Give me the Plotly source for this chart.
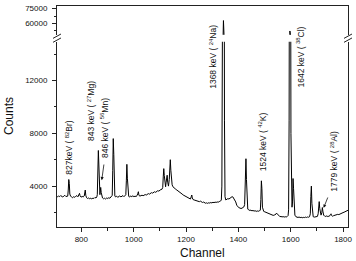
import plotly.graph_objects as go

channel = [705,709,713,717,721,725,729,733,737,741,745,748,750,752,754,756,759,763,767,771,775,779,783,787,791,793,795,799,803,807,811,813,815,817,820,824,828,832,836,840,844,848,852,856,859,861,863,865,867,869,871,873,874,876,878,881,885,889,893,897,901,905,909,913,916,918,920,922,924,926,928,931,935,939,943,947,951,955,959,963,967,970,972,974,976,978,981,985,989,993,997,1001,1005,1009,1013,1016,1018,1020,1024,1028,1032,1036,1040,1044,1048,1052,1056,1060,1064,1068,1072,1076,1080,1084,1088,1092,1096,1100,1104,1108,1111,1113,1115,1117,1119,1122,1124,1126,1128,1130,1133,1136,1138,1140,1142,1144,1147,1150,1153,1157,1161,1165,1169,1173,1177,1181,1185,1189,1193,1197,1201,1205,1209,1213,1217,1220,1222,1224,1227,1231,1235,1239,1243,1247,1251,1255,1259,1263,1267,1271,1275,1279,1283,1287,1291,1295,1299,1303,1307,1311,1315,1319,1323,1327,1331,1335,1337,1339,1341,1343,1345,1347,1349,1352,1356,1360,1364,1368,1372,1376,1379,1382,1386,1390,1394,1398,1402,1406,1410,1414,1418,1421,1424,1426,1429,1431,1433,1436,1440,1444,1448,1452,1456,1460,1464,1468,1472,1476,1480,1484,1486,1488,1490,1492,1494,1497,1501,1505,1509,1513,1517,1521,1525,1529,1533,1537,1541,1544,1546,1548,1551,1555,1559,1563,1567,1571,1575,1579,1583,1587,1590,1592,1594,1596,1597,1599,1601,1603,1605,1607,1609,1611,1613,1616,1620,1624,1628,1632,1636,1640,1644,1648,1652,1656,1660,1664,1668,1672,1675,1677,1679,1681,1683,1686,1690,1694,1698,1702,1705,1707,1709,1711,1713,1716,1719,1721,1723,1726,1730,1734,1738,1742,1746,1750,1752,1754,1756,1760,1764,1768,1772,1776,1780,1784,1788,1792,1796,1800,1804,1808,1812,1816,1820]

counts = [3230,3180,3260,3200,3280,3220,3170,3250,3300,3210,3260,3240,3700,4500,4200,3400,3230,3180,3120,3200,3150,3230,3280,3190,3300,3450,3280,3160,3220,3180,3250,3500,3700,3300,3120,3060,3100,3040,3080,3020,3100,3060,3140,3100,3180,3350,4800,6700,5600,3600,3350,3700,3900,3500,3250,3100,3040,3080,3020,3100,3060,3120,3080,3150,3200,3300,5200,7600,6400,3700,3250,3180,3240,3150,3200,3260,3180,3230,3280,3200,3260,3350,4400,5650,4600,3300,3220,3180,3250,3200,3270,3190,3240,3210,3280,3450,3575,3300,3240,3280,3310,3270,3340,3360,3320,3400,3430,3390,3460,3500,3470,3540,3570,3530,3610,3650,3620,3700,3740,3760,3900,4700,5325,4800,4100,3950,4300,4700,4825,4300,4000,4500,5400,6000,5200,4400,4100,3950,3880,3820,3760,3700,3650,3560,3520,3440,3400,3330,3280,3220,3180,3120,3080,3050,3020,3200,3325,3100,2980,2950,2920,2880,2900,2850,2820,2860,2800,2760,2790,2740,2700,2730,2690,2740,2710,2760,2720,2780,2740,2790,2760,2800,2780,2830,2850,2950,4000,15000,45000,63000,35000,9000,3200,2950,3000,3050,3020,3100,3150,3200,3180,3100,3000,2800,2550,2420,2360,2340,2300,2330,2360,2420,2600,4000,6075,4500,2600,2250,2200,2150,2180,2120,2160,2100,2140,2080,2120,2090,2130,2170,3000,4400,3800,2400,2150,2080,2050,2010,1960,1920,1880,1850,1820,1800,1780,1800,1820,1880,1950,1900,1800,1720,1680,1700,1660,1690,1650,1680,1660,1700,1760,2200,9000,35000,52500,30000,8000,2800,2400,2800,4575,3800,2200,1800,1680,1640,1620,1660,1610,1640,1600,1630,1610,1650,1620,1660,1640,1680,1900,3200,4000,2700,1800,1680,1650,1670,1640,1700,1900,2500,2825,2300,1950,1800,2000,2375,2100,1800,1720,1700,1740,1690,1720,1760,1850,1900,1780,1720,1760,1800,1780,1830,1860,1840,1890,1920,1950,1990,2020,2060,2100,2150,2180]

x_ticks = [800, 1000, 1200, 1400, 1600, 1800]
y_low_ticks = [4000, 8000, 12000]
y_high_ticks = [60000, 75000]

labels = [
    dict(text="827keV ( <sup>82</sup>Br)", ch=754, y=4700),
    dict(text="843 keV ( <sup>27</sup>Mg)", ch=836, y=7250),
    dict(text="846 keV ( <sup>56</sup>Mn)", ch=889, y=5950),
    dict(text="1368 keV ( <sup>24</sup>Na)", ch=1302, y=11200),
    dict(text="1524 keV ( <sup>42</sup>K)", ch=1491, y=4950),
    dict(text="1642 keV ( <sup>38</sup>Cl)", ch=1639, y=11350),
    dict(text="1779 keV ( <sup>28</sup>Al)", ch=1766, y=3400),
]

FONT = "Liberation Sans, Arial, sans-serif"
LINE = "#222"

fig = go.Figure()
fig.add_trace(go.Scatter(x=channel, y=counts, mode="lines", xaxis="x", yaxis="y",
                         line=dict(color="black", width=1), hoverinfo="skip", showlegend=False))
fig.add_trace(go.Scatter(x=channel, y=counts, mode="lines", xaxis="x2", yaxis="y2",
                         line=dict(color="black", width=1), hoverinfo="skip", showlegend=False))

XR = [707, 1819]
ax_common = dict(showgrid=False, zeroline=False, showline=True, linecolor=LINE, linewidth=1,
                 tickfont=dict(family=FONT, size=8, color="#111"))

fig.update_layout(
    width=356, height=261,
    margin=dict(l=57, r=7, t=4, b=34),
    paper_bgcolor="white", plot_bgcolor="white",
    xaxis=dict(**ax_common, domain=[0, 1], anchor="y", range=XR, tickvals=x_ticks,
               ticktext=[str(v) for v in x_ticks],
               ticks="outside", ticklen=4, tickcolor=LINE,
               minor=dict(dtick=100, tick0=0, ticklen=2.5, ticks="outside", tickcolor=LINE)),
    xaxis2=dict(**ax_common, domain=[0, 1], anchor="y2", range=XR, side="top",
                showticklabels=False, ticks=""),
    yaxis=dict(**ax_common, domain=[0, 0.8387], anchor="x", range=[900, 14950],
               tickvals=y_low_ticks, ticktext=[str(v) for v in y_low_ticks],
               ticks="outside", ticklen=4, tickcolor=LINE, mirror=True,
               ticklabelstandoff=3,
               minor=dict(dtick=2000, tick0=0, ticklen=2.5, ticks="outside", tickcolor=LINE)),
    yaxis2=dict(**ax_common, domain=[0.87, 1], anchor="x2", range=[48700, 77700],
                tickvals=y_high_ticks, ticktext=[str(v) for v in y_high_ticks],
                ticks="outside", ticklen=4, tickcolor=LINE, mirror=True,
                ticklabelstandoff=3,
                minor=dict(dtick=7500, tick0=0, ticklen=2.5, ticks="outside", tickcolor=LINE)),
)

annots = []
for lb in labels:
    annots.append(dict(text=lb["text"], x=lb["ch"], y=lb["y"], xref="x", yref="y",
                       textangle=-90, showarrow=False, xanchor="center", yanchor="bottom",
                       font=dict(family=FONT, size=8.5, color="#111")))
# arrows
annots.append(dict(text="", x=878, y=4450, ax=887, ay=5750, xref="x", yref="y",
                   axref="x", ayref="y", showarrow=True, arrowhead=2, arrowsize=0.8,
                   arrowwidth=0.8, arrowcolor="#111"))
annots.append(dict(text="", x=1726, y=2350, ax=1744, ay=3250, xref="x", yref="y",
                   axref="x", ayref="y", showarrow=True, arrowhead=2, arrowsize=0.8,
                   arrowwidth=0.8, arrowcolor="#111"))
# axis titles
annots.append(dict(text="Channel", xref="paper", yref="paper", x=0.5, y=0, yshift=-25.5,
                   xanchor="center", yanchor="middle", showarrow=False,
                   font=dict(family=FONT, size=12, color="#111")))
annots.append(dict(text="Counts", xref="paper", yref="paper", x=0, y=0.5, xshift=-48.5,
                   xanchor="center", yanchor="middle", textangle=-90, showarrow=False,
                   font=dict(family=FONT, size=12, color="#111")))
fig.update_layout(annotations=annots)

# break marks
W, H = 292.0, 223.3
def px(xp):
    return (xp - 57.0) / W
def py(yp):
    return (227.3 - yp) / H
shapes = []
for xc in (57.0, 349.0):
    for yc in (34.5, 38.5):
        shapes.append(dict(type="line", xref="paper", yref="paper",
                           x0=px(xc - 4), y0=py(yc + 2.2), x1=px(xc + 4), y1=py(yc - 2.2),
                           line=dict(color=LINE, width=1)))
fig.update_layout(shapes=shapes)

fig.write_html("out.html")
